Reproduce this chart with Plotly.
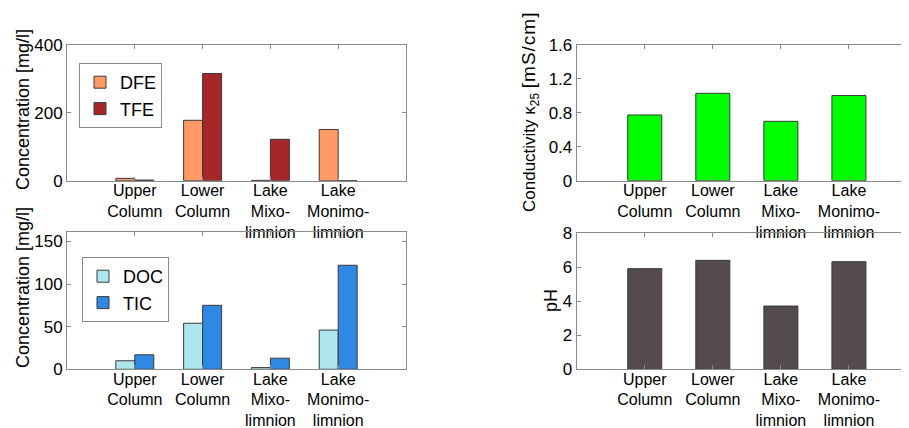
import plotly.graph_objects as go

# ---- data ----
categories = ["Upper<br>Column", "Lower<br>Column", "Lake<br>Mixo-<br>limnion", "Lake<br>Monimo-<br>limnion"]
cat_pos = [1, 2, 3, 4]
dfe = [7, 178, 1, 151]
tfe = [2, 316, 122, 0]
doc = [10, 54, 2, 46]
tic = [17, 75, 13, 122]
conductivity = [0.775, 1.03, 0.70, 1.005]
ph = [5.92, 6.41, 3.72, 6.33]

W, H = 909, 428
OFF = 8  # page body margin offset
FONT = "Liberation Sans, Arial, sans-serif"
EDGE = "#3a3a3a"
AX = "#8a8a8a"

fig = go.Figure()

fig.add_trace(go.Bar(x=cat_pos, y=dfe, name="DFE", marker=dict(color="#FF9966", line=dict(color=EDGE, width=1)),
                     xaxis="x", yaxis="y", legend="legend"))
fig.add_trace(go.Bar(x=cat_pos, y=tfe, name="TFE", marker=dict(color="#A6262A", line=dict(color=EDGE, width=1)),
                     xaxis="x", yaxis="y", legend="legend"))
fig.add_trace(go.Bar(x=cat_pos, y=doc, name="DOC", marker=dict(color="#ADE6EC", line=dict(color=EDGE, width=1)),
                     xaxis="x2", yaxis="y2", legend="legend2"))
fig.add_trace(go.Bar(x=cat_pos, y=tic, name="TIC", marker=dict(color="#2F88E3", line=dict(color=EDGE, width=1)),
                     xaxis="x2", yaxis="y2", legend="legend2"))
fig.add_trace(go.Bar(x=cat_pos, y=conductivity, name="cond", showlegend=False, width=0.5,
                     marker=dict(color="#00FF00", line=dict(color=EDGE, width=1)),
                     xaxis="x3", yaxis="y3"))
fig.add_trace(go.Bar(x=cat_pos, y=ph, name="pH", showlegend=False, width=0.5,
                     marker=dict(color="#544B4F", line=dict(color=EDGE, width=1)),
                     xaxis="x4", yaxis="y4"))

def fx(p):
    return (p - OFF) / W

def fy(p):
    return 1 - (p - OFF) / H

def px_x(a, b):
    return [max(fx(a), 0.0), min(fx(b), 1.0)]

def px_y(top, bottom):
    return [fy(bottom), fy(top)]

common_x = dict(tickvals=cat_pos, ticktext=categories, ticks="inside", ticklen=4, tickcolor=AX,
                showline=True, linecolor=AX, linewidth=1, mirror="ticks", showgrid=False, zeroline=False,
                automargin=False, ticklabelstandoff=-5, tickfont=dict(size=16, color="black", family=FONT))
common_y = dict(ticks="inside", ticklen=4, tickcolor=AX, showline=True, linecolor=AX, linewidth=1,
                showgrid=False, zeroline=False, automargin=False,
                tickfont=dict(size=17, color="black", family=FONT))

left_dom = px_x(67, 406)
right_dom = px_x(576.7, 917)
right_range = [0, 5]

fig.update_layout(
    template="none",
    width=W, height=H, margin=dict(l=0, r=0, t=0, b=0, autoexpand=False),
    paper_bgcolor="white", plot_bgcolor="white",
    font=dict(family=FONT, color="black"),
    barmode="group", bargap=0.44, bargroupgap=0,
    xaxis=dict(common_x, domain=left_dom, range=[0, 5], anchor="y"),
    yaxis=dict(common_y, domain=px_y(45, 180.7), range=[0, 400], tickvals=[0, 200, 400], mirror="ticks", anchor="x"),
    xaxis2=dict(common_x, domain=left_dom, range=[0, 5], anchor="y2"),
    yaxis2=dict(common_y, domain=px_y(232, 369.3), range=[0, 161], tickvals=[0, 50, 100, 150], mirror="ticks", anchor="x2"),
    xaxis3=dict(common_x, domain=right_dom, range=right_range, anchor="y3"),
    yaxis3=dict(common_y, domain=px_y(45, 180.7), range=[0, 1.6], tickvals=[0, 0.4, 0.8, 1.2, 1.6],
                ticktext=["0", "0.4", "0.8", "1.2", "1.6"], mirror=False, anchor="x3"),
    xaxis4=dict(common_x, domain=right_dom, range=right_range, anchor="y4"),
    yaxis4=dict(common_y, domain=px_y(233.3, 369.3), range=[0, 8], tickvals=[0, 2, 4, 6, 8], mirror=False, anchor="x4"),
    legend=dict(x=fx(79), y=fy(63), xanchor="left", yanchor="top", bordercolor=AX, borderwidth=1,
                bgcolor="white", font=dict(size=18, family=FONT), tracegroupgap=0, itemwidth=30),
    legend2=dict(x=fx(82), y=fy(257), xanchor="left", yanchor="top", bordercolor=AX, borderwidth=1,
                 bgcolor="white", font=dict(size=18, family=FONT), tracegroupgap=0, itemwidth=30),
)

title_font = dict(size=18, family=FONT, color="black")
fig.add_annotation(text="Concentration [mg/l]", x=fx(23), y=fy(110), xref="paper", yref="paper",
                   textangle=-90, showarrow=False, font=title_font, xanchor="center", yanchor="middle")
fig.add_annotation(text="Concentration [mg/l]", x=fx(23), y=fy(288), xref="paper", yref="paper",
                   textangle=-90, showarrow=False, font=title_font, xanchor="center", yanchor="middle")
fig.add_annotation(text='Conductivity κ<sub>25</sub> '
                        '<span style="font-size:19px;letter-spacing:1px">[mS/cm]</span>',
                   x=fx(530), y=fy(112), xref="paper", yref="paper",
                   textangle=-90, showarrow=False, font=dict(size=17, family=FONT, color="black"),
                   xanchor="center", yanchor="middle")
fig.add_annotation(text="pH", x=fx(551), y=fy(301), xref="paper", yref="paper",
                   textangle=-90, showarrow=False, font=title_font, xanchor="center", yanchor="middle")

fig.write_html("out.html")
